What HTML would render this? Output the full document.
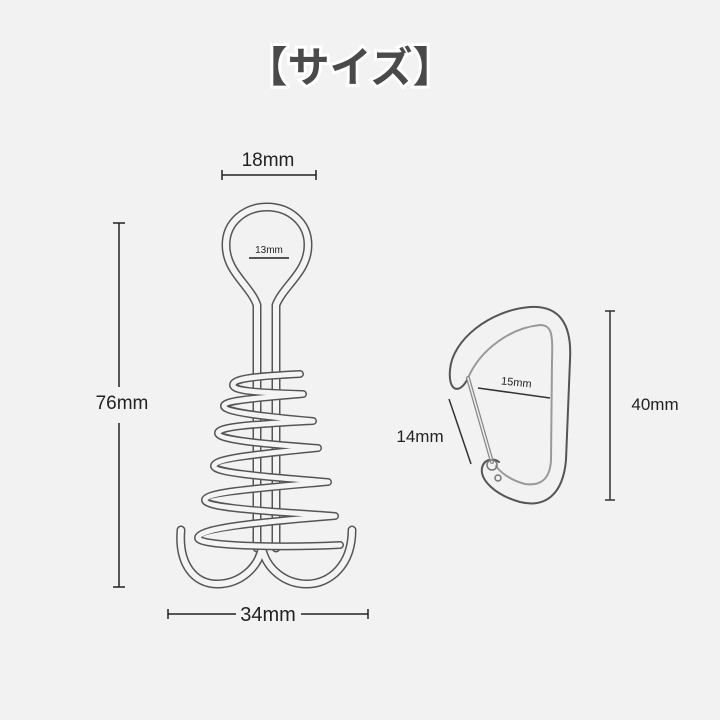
<!DOCTYPE html>
<html><head><meta charset="utf-8"><style>
html,body{margin:0;padding:0;background:#f2f2f2;}
svg{display:block}
text{font-family:"Liberation Sans","Noto Sans CJK JP",sans-serif;fill:#222}
</style></head><body>
<svg width="720" height="720" viewBox="0 0 720 720" xmlns="http://www.w3.org/2000/svg">
<rect width="720" height="720" fill="#f2f2f2"/>
<text x="350" y="82" font-size="42" font-weight="bold" text-anchor="middle" font-family="Noto Sans CJK JP,sans-serif" style="fill:#4a4a4a;stroke:#fff;stroke-width:6;paint-order:stroke">【サイズ】</text>

<g stroke="#222" stroke-width="1.5" fill="none">
<line x1="222" y1="175" x2="316" y2="175"/><line x1="222" y1="170" x2="222" y2="180"/><line x1="316" y1="170" x2="316" y2="180"/>
<line x1="119" y1="223" x2="119" y2="387"/><line x1="119" y1="423" x2="119" y2="587"/>
<line x1="113" y1="223" x2="125" y2="223"/><line x1="113" y1="587" x2="125" y2="587"/>
<line x1="168" y1="614" x2="236" y2="614"/><line x1="301" y1="614" x2="368" y2="614"/>
<line x1="168" y1="609" x2="168" y2="619"/><line x1="368" y1="609" x2="368" y2="619"/>
<line x1="249" y1="258" x2="289" y2="258"/>
</g>
<text x="268" y="166" font-size="19" text-anchor="middle">18mm</text>
<text x="122" y="409" font-size="19" text-anchor="middle">76mm</text>
<text x="268" y="621" font-size="20" text-anchor="middle">34mm</text>
<text x="269" y="253" font-size="10" text-anchor="middle">13mm</text>

<g fill="none" stroke-linecap="round" stroke-linejoin="round">
<g stroke="#555" stroke-width="9">
<path id="loop" d="M257,548 L257,305 C250,285 226,272 226,245 C226,222 245,207 267,207 C289,207 308,222 308,245 C308,272 284,285 276,305 L276,548"/>
</g>
<g stroke="#f4f4f4" stroke-width="6"><use href="#loop"/></g>
<path d="M181,530 C178,565 195,584 217,584 C240,584 258,568 262,548 C266,568 284,584 307,584 C330,584 352,565 352,530" stroke="#555" stroke-width="9"/>
<path d="M181,530 C178,565 195,584 217,584 C240,584 258,568 262,548 C266,568 284,584 307,584 C330,584 352,565 352,530" stroke="#f4f4f4" stroke-width="6"/>
<path id="coil" d="M300,374 C260,376 233,378 233,385 C233,392 270,393 303,394 C260,398 224,400 224,406 C224,413 280,418 313,421 C260,424 218,426 218,433 C218,441 280,445 318,448 C260,454 214,458 214,466 C214,474 285,478 328,482 C260,488 205,492 205,500 C205,509 285,512 335,516 C260,522 198,528 198,538 C198,546 280,548 340,545"/>
<use href="#coil" stroke="#555" stroke-width="8"/>
<use href="#coil" stroke="#f4f4f4" stroke-width="5"/>
</g>

<g fill="none" stroke-linecap="round" stroke-linejoin="round">
<path d="M468,378 C460,395 448,392 450,370 C452,340 490,310 530,307 C560,305 572,325 570,360 L566,460 C563,495 545,508 520,502 C495,495 480,480 482,468 C484,458 495,458 499,462" stroke="#555" stroke-width="2"/>
<path d="M468,378 C480,350 510,328 540,325 C552,325 553,335 552,360 L551,460 C550,480 540,486 525,484 C510,480 500,472 496,466" stroke="#999" stroke-width="2"/>
<line x1="468" y1="378" x2="492" y2="462" stroke="#888" stroke-width="4"/>
<line x1="468" y1="378" x2="492" y2="462" stroke="#eee" stroke-width="1.5"/>
<circle cx="492" cy="465" r="5" stroke="#777" stroke-width="1.5"/>
<circle cx="498" cy="478" r="3" stroke="#777" stroke-width="1.5"/>
</g>
<g stroke="#333" stroke-width="1.5">
<line x1="610" y1="311" x2="610" y2="500"/>
<line x1="605" y1="311" x2="615" y2="311"/><line x1="605" y1="500" x2="615" y2="500"/>
<line x1="449" y1="399" x2="471" y2="464"/>
<line x1="478" y1="388" x2="550" y2="398"/>
</g>
<text x="655" y="410" font-size="17" text-anchor="middle">40mm</text>
<text x="420" y="442" font-size="17" text-anchor="middle">14mm</text>
<text x="516" y="386" font-size="11" text-anchor="middle" transform="rotate(6 516 386)">15mm</text>
</svg>
</body></html>
